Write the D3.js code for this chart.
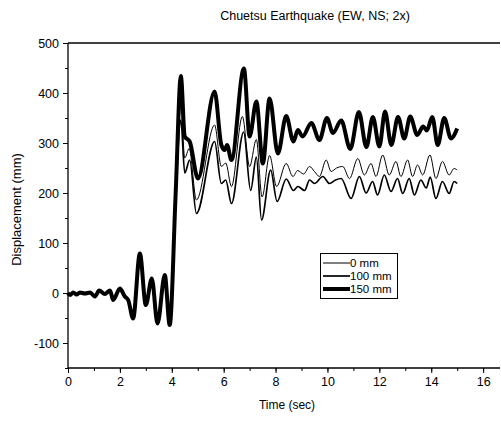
<!DOCTYPE html>
<html><head><meta charset="utf-8">
<script src="https://cdn.jsdelivr.net/npm/d3@7/dist/d3.min.js"></script>
<style>
body{margin:0;background:#fff}
svg{display:block}
text{font-family:Arial,"Liberation Sans",sans-serif;fill:#000}
</style>
</head><body>
<svg id="c" width="501" height="421"></svg>
<script>
// ---------- data ----------
const titleText = "Chuetsu Earthquake (EW, NS; 2x)";
const xLabel = "Time (sec)";
const yLabel = "Displacement (mm)";
const xTicks = [0, 2, 4, 6, 8, 10, 12, 14, 16];
const yTicks = [-100, 0, 100, 200, 300, 400, 500];
const seriesNames = ["0 mm", "100 mm", "150 mm"];

// shared early motion (all three records coincide)
const preT = [0, 0.08, 0.2, 0.33, 0.46, 0.65, 0.85, 1.04, 1.2, 1.42, 1.62, 1.74, 2.0, 2.19, 2.32, 2.51, 2.77, 3.0, 3.23, 3.45, 3.73, 3.92, 4.15];
const preV = [0, -4, 1, -3, 1, -1, 1, -7, 5, -2, 5, -14, 9, -7, -14, -51, 79, -24, 29, -61, 36, -64, 200];

// 0 mm
const t0 = [4.35, 4.5, 4.67, 4.95, 5.65, 5.91, 6.08, 6.30, 6.72, 7.0, 7.26, 7.48, 7.77, 8.04, 8.41, 8.67, 8.85, 9.08, 9.31, 9.5, 9.69, 9.95, 10.14, 10.35, 10.59, 10.85, 11.17, 11.42, 11.68, 11.87, 12.13, 12.38, 12.64, 12.83, 13.09, 13.28, 13.47, 13.67, 13.95, 14.18, 14.43, 14.69, 14.88, 15.0];
const v0 = [373, 270, 289, 186, 336, 253, 260, 213, 353, 253, 307, 192, 275, 213, 259, 233, 245, 238, 253, 243, 233, 266, 243, 250, 253, 229, 269, 236, 259, 233, 276, 236, 263, 233, 266, 233, 256, 236, 276, 229, 263, 236, 249, 246];

// 100 mm
const t100 = [4.35, 4.5, 4.69, 4.95, 5.65, 5.91, 6.08, 6.30, 6.77, 7.04, 7.26, 7.46, 7.81, 8.06, 8.41, 8.69, 8.86, 9.12, 9.31, 9.5, 9.82, 10.08, 10.31, 10.53, 10.91, 11.23, 11.49, 11.74, 11.93, 12.19, 12.45, 12.7, 12.9, 13.15, 13.35, 13.6, 13.81, 13.96, 14.18, 14.43, 14.69, 14.88, 15.0];
const v100 = [346, 240, 266, 159, 303, 219, 226, 179, 322, 205, 272, 146, 246, 183, 228, 205, 213, 205, 226, 219, 233, 219, 226, 229, 189, 233, 200, 223, 196, 236, 203, 229, 199, 229, 196, 226, 210, 232, 189, 223, 199, 223, 219];

// 150 mm
const t150 = [4.35, 4.5, 4.69, 5.01, 5.65, 5.91, 6.04, 6.13, 6.30, 6.78, 7.0, 7.26, 7.51, 7.77, 8.09, 8.41, 8.69, 8.86, 9.04, 9.38, 9.69, 9.98, 10.21, 10.53, 10.88, 11.21, 11.5, 11.75, 12.0, 12.22, 12.46, 12.72, 12.96, 13.19, 13.46, 13.69, 13.83, 14.04, 14.25, 14.5, 14.76, 15.0];
const v150 = [434, 313, 303, 229, 403, 296, 286, 296, 266, 449, 313, 383, 259, 389, 279, 354, 303, 326, 313, 340, 306, 350, 320, 345, 288, 362, 292, 352, 293, 363, 296, 352, 309, 353, 316, 333, 325, 352, 296, 350, 309, 329];

const seriesT = [t0, t100, t150];
const seriesV = [v0, v100, v150];
const widths = [1, 1.7, 4];

// ---------- chart ----------
const svg = d3.select("#c");
const x = d3.scaleLinear().domain([0, 16.65]).range([68, 500]);
const y = d3.scaleLinear().domain([-150, 500]).range([368, 43]);
const fmt = d => String(d); // plain hyphen-minus as in the reference

svg.append("line").attr("x1", 68).attr("x2", 500).attr("y1", y(500)).attr("y2", y(500)).attr("stroke", "#000").attr("stroke-width", 1.3);

// x axis
const gx = svg.append("g").attr("transform", `translate(0,${y(-150)})`);
gx.call(d3.axisBottom(x).tickValues(d3.range(0, 17, 1)).tickSize(3).tickFormat(""));
gx.call(g => g.select(".domain").remove());
const gx2 = svg.append("g").attr("transform", `translate(0,${y(-150)})`);
gx2.call(d3.axisBottom(x).tickValues(xTicks).tickSize(5).tickPadding(4).tickFormat(fmt));
gx2.select(".domain").attr("d", `M68,0H500`).attr("stroke-width", 1.3);

// y axis
const gy = svg.append("g").attr("transform", `translate(${x(0)},0)`);
gy.call(d3.axisLeft(y).tickValues(d3.range(-150, 501, 50)).tickSize(3).tickFormat(""));
gy.call(g => g.select(".domain").remove());
const gy2 = svg.append("g").attr("transform", `translate(${x(0)},0)`);
gy2.call(d3.axisLeft(y).tickValues(yTicks).tickSize(5).tickPadding(4).tickFormat(fmt));
gy2.select(".domain").attr("d", `M0,${y(-150)}V${y(500)}`).attr("stroke-width", 1.3);

svg.selectAll(".tick line").attr("stroke", "#000").attr("stroke-width", 1);
svg.selectAll(".tick text").attr("font-size", 12.5).attr("font-family", "Arial, 'Liberation Sans', sans-serif").attr("fill", "#000");

// lines
const line = d3.line().x(d => x(d[0])).y(d => y(d[1])).curve(d3.curveMonotoneX);
seriesT.forEach((ts, i) => {
  const pts = preT.map((t, j) => [t, preV[j]]).concat(ts.map((t, j) => [t, seriesV[i][j]]));
  svg.append("path").datum(pts)
    .attr("d", line)
    .attr("fill", "none")
    .attr("stroke", "#000")
    .attr("stroke-width", widths[i])
    .attr("stroke-linejoin", "round");
});

// title and labels
svg.append("text").attr("x", 315).attr("y", 20).attr("text-anchor", "middle").attr("font-size", 12.5).text(titleText);
svg.append("text").attr("x", 287).attr("y", 409).attr("text-anchor", "middle").attr("font-size", 12).text(xLabel);
svg.append("text").attr("transform", `translate(21,${(y(-150) + y(500)) / 2 + 4}) rotate(-90)`).attr("text-anchor", "middle").attr("font-size", 13).text(yLabel);

// legend
const lg = svg.append("g");
lg.append("rect").attr("x", 320.5).attr("y", 253.5).attr("width", 77).attr("height", 45).attr("fill", "#fff").attr("stroke", "#000").attr("stroke-width", 1);
seriesNames.forEach((n, i) => {
  const yy = 263 + i * 13;
  lg.append("line").attr("x1", 323).attr("x2", 350).attr("y1", yy).attr("y2", yy).attr("stroke", "#000").attr("stroke-width", widths[i]);
  lg.append("text").attr("x", 350).attr("y", yy + 4).attr("font-size", 11.5).text(n);
});
</script>
</body></html>
